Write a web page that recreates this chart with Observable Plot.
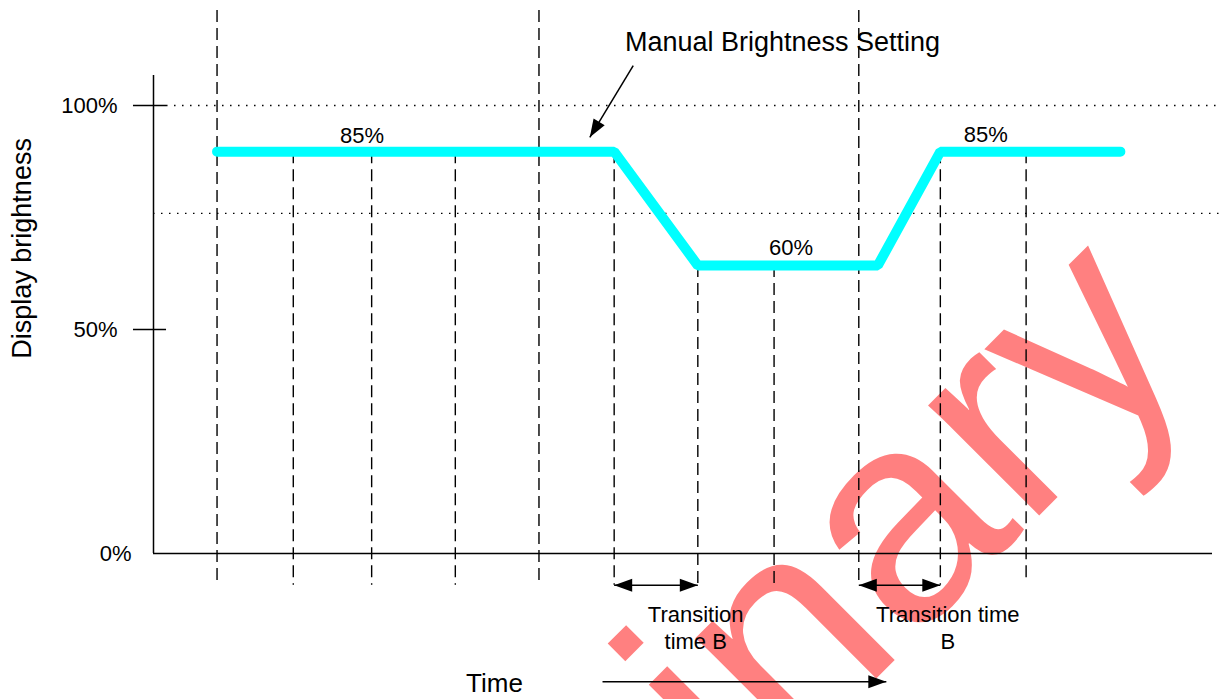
<!DOCTYPE html>
<html><head><meta charset="utf-8">
<script src="https://cdn.jsdelivr.net/npm/d3@7"></script>
<script src="https://cdn.jsdelivr.net/npm/@observablehq/plot@0.6"></script>
<style>html,body{margin:0;padding:0;background:#fff;overflow:hidden}</style>
</head><body><div id="chart"></div>
<script>
// ---------------- data (time in arbitrary units 0–100, level in %) ----------------
const stepTime  = [6.0, 43.5, 51.4, 68.4, 74.3, 91.3];
const stepLevel = [89.7, 89.7, 64.3, 64.3, 89.7, 89.7];

const levelText  = ["85%", "60%", "85%"];
const levelTextT = [19.7, 60.2, 78.6];
const levelTextY = [93.3, 68.1, 93.5];

const yTicks     = [0, 50, 100];
const yTickMarks = [50, 100];
const refLevels  = [100, 75.9];
const refStartT  = [1.23, 0];

// dashed time markers
const markTopT  = [6.0, 36.4, 66.6];                    // from top of figure
const markHighT = [13.2, 20.6, 28.5, 43.5, 74.3, 82.4]; // from the 85% level
const markHighBottom = [-7.1, -7.1, -7.1, -7.1, -7.1, -5.6];
const markLowT  = [51.4, 58.6];                         // from the 60% level

// transition intervals
const transStart  = [43.5, 66.6];
const transEnd    = [51.4, 74.3];
const transLabels = ["Transition\ntime B", "Transition time\nB"];
const transLabelT = [51.2, 75.0];

// annotations
const titleText = ["Manual Brightness Setting"];
const titlePos  = [59.4, 114.1];
const callout   = [45.3, 108.9, 41.2, 92.9]; // t1, y1, t2, y2 (arrow tip at t2,y2)
const timeArrow = [42.4, 69.2, -28.6];       // t1, t2, level
const watermark = ["Preliminary"];
const watermarkPos = [98.73, 44.17];

// ---------------- layout ----------------
const W = 1220, H = 699, mL = 153, mR = 8, mT = 105, mB = 146;
const pxX = (W - mL - mR) / 100, pxY = (H - mT - mB) / 100;
const FONT = "'Liberation Sans', Arial, Helvetica, sans-serif";

const head = (Lf, Wf) => ({
  draw(ctx, size) {
    const r = Math.sqrt(size / Math.PI), l = r * Lf, w = r * Wf / 2;
    ctx.moveTo(0, 0); ctx.lineTo(-l, -w); ctx.lineTo(-l, w); ctx.closePath();
  }
});
const arrowHead = head(1.8, 1.3);

const stepData = stepTime.map((t, i) => ({t, v: stepLevel[i]}));
const calloutAngle = Math.atan2(-(callout[3] - callout[1]) * pxY, (callout[2] - callout[0]) * pxX) * 180 / Math.PI;

const heads = [
  ...transStart.map(t => ({t, v: -7.1, rot: 180})),
  ...transEnd.map(t => ({t, v: -7.1, rot: 0})),
  {t: timeArrow[1], v: timeArrow[2], rot: 0},
  {t: callout[2], v: callout[3], rot: calloutAngle}
];

const dash = "12,6";
const chart = Plot.plot({
  width: W, height: H,
  marginLeft: mL, marginRight: mR, marginTop: mT, marginBottom: mB,
  style: {font: `22px ${FONT}`, background: "#fff", overflow: "hidden"},
  x: {domain: [0, 100], axis: null},
  y: {domain: [0, 100]},
  marks: [
    // watermark (behind everything)
    Plot.text(watermark, {x: () => watermarkPos[0], y: () => watermarkPos[1], text: d => d,
      textAnchor: "end", lineAnchor: "bottom", rotate: -45, fontSize: 296, fill: "#FF8080", ariaLabel: "watermark"}),
    // dotted reference levels
    Plot.ruleY(refLevels, {y: d => d, x1: (d, i) => refStartT[i], x2: 100.75,
      stroke: "black", strokeWidth: 1.3, strokeDasharray: "1.5,6.5"}),
    // dashed time markers
    Plot.ruleX(markTopT, {x: d => d, y1: 121.2, y2: -7.1, stroke: "black", strokeWidth: 1.4, strokeDasharray: dash}),
    Plot.ruleX(markHighT, {x: d => d, y1: 89.7, y2: (d, i) => markHighBottom[i], stroke: "black", strokeWidth: 1.4, strokeDasharray: dash}),
    Plot.ruleX(markLowT, {x: d => d, y1: 64.3, y2: -7.1, stroke: "black", strokeWidth: 1.4, strokeDasharray: dash}),
    // axes lines
    Plot.ruleY([0], {x1: 0, x2: 100, stroke: "black", strokeWidth: 1.5}),
    Plot.ruleX([0], {y1: 0, y2: 106.7, stroke: "black", strokeWidth: 1.5}),
    Plot.ruleY(yTickMarks, {x1: -1.89, x2: 1.23, stroke: "black", strokeWidth: 1.5}),
    Plot.axisY(yTicks.filter(d => d > 0), {tickSize: 0, tickPadding: 36, tickFormat: d => d + "%", label: null, fontSize: 22}),
    Plot.axisY(yTicks.filter(d => d === 0), {tickSize: 0, tickPadding: 22, tickFormat: d => d + "%", label: null, fontSize: 22}),
    Plot.text(["Display brightness"], {x: () => -12.4, y: () => 68.1, text: d => d, rotate: -90, fontSize: 27, fill: "black"}),
    // brightness profile
    Plot.line(stepData, {x: "t", y: "v", stroke: "#00FFFF", strokeWidth: 10, strokeLinecap: "round", strokeLinejoin: "miter"}),
    Plot.text(levelText, {x: (d, i) => levelTextT[i], y: (d, i) => levelTextY[i], text: d => d, fontSize: 22, fill: "black"}),
    // transition arrows
    Plot.link(transStart, {x1: d => d, x2: (d, i) => transEnd[i], y1: -7.1, y2: -7.1, stroke: "black", strokeWidth: 1.5}),
    Plot.text(transLabels, {x: (d, i) => transLabelT[i], y: -16.3, text: d => d, lineHeight: 1.27, fontSize: 22, fill: "black"}),
    // time arrow
    Plot.link([timeArrow], {x1: d => d[0], x2: d => d[1], y1: d => d[2], y2: d => d[2], stroke: "black", strokeWidth: 1.5}),
    Plot.text(["Time"], {x: () => 32.2, y: () => -29.0, text: d => d, fontSize: 26, fill: "black"}),
    // callout
    Plot.text(titleText, {x: () => titlePos[0], y: () => titlePos[1], text: d => d, fontSize: 27, fill: "black"}),
    Plot.link([callout], {x1: d => d[0], y1: d => d[1], x2: d => d[2], y2: d => d[3], stroke: "black", strokeWidth: 1.5}),
    // arrow heads
    Plot.dot(heads, {x: "t", y: "v", rotate: "rot", symbol: arrowHead, r: 10, fill: "black", stroke: "none"})
  ]
});
// watermark glyphs are slightly taller than regular Arial
d3.select(chart).selectAll('g[aria-label="watermark"] text').each(function () {
  const t = this.getAttribute("transform") || "";
  this.setAttribute("transform", t + " scale(1,1.07)");
});
document.getElementById("chart").appendChild(chart);
</script>
</body></html>
